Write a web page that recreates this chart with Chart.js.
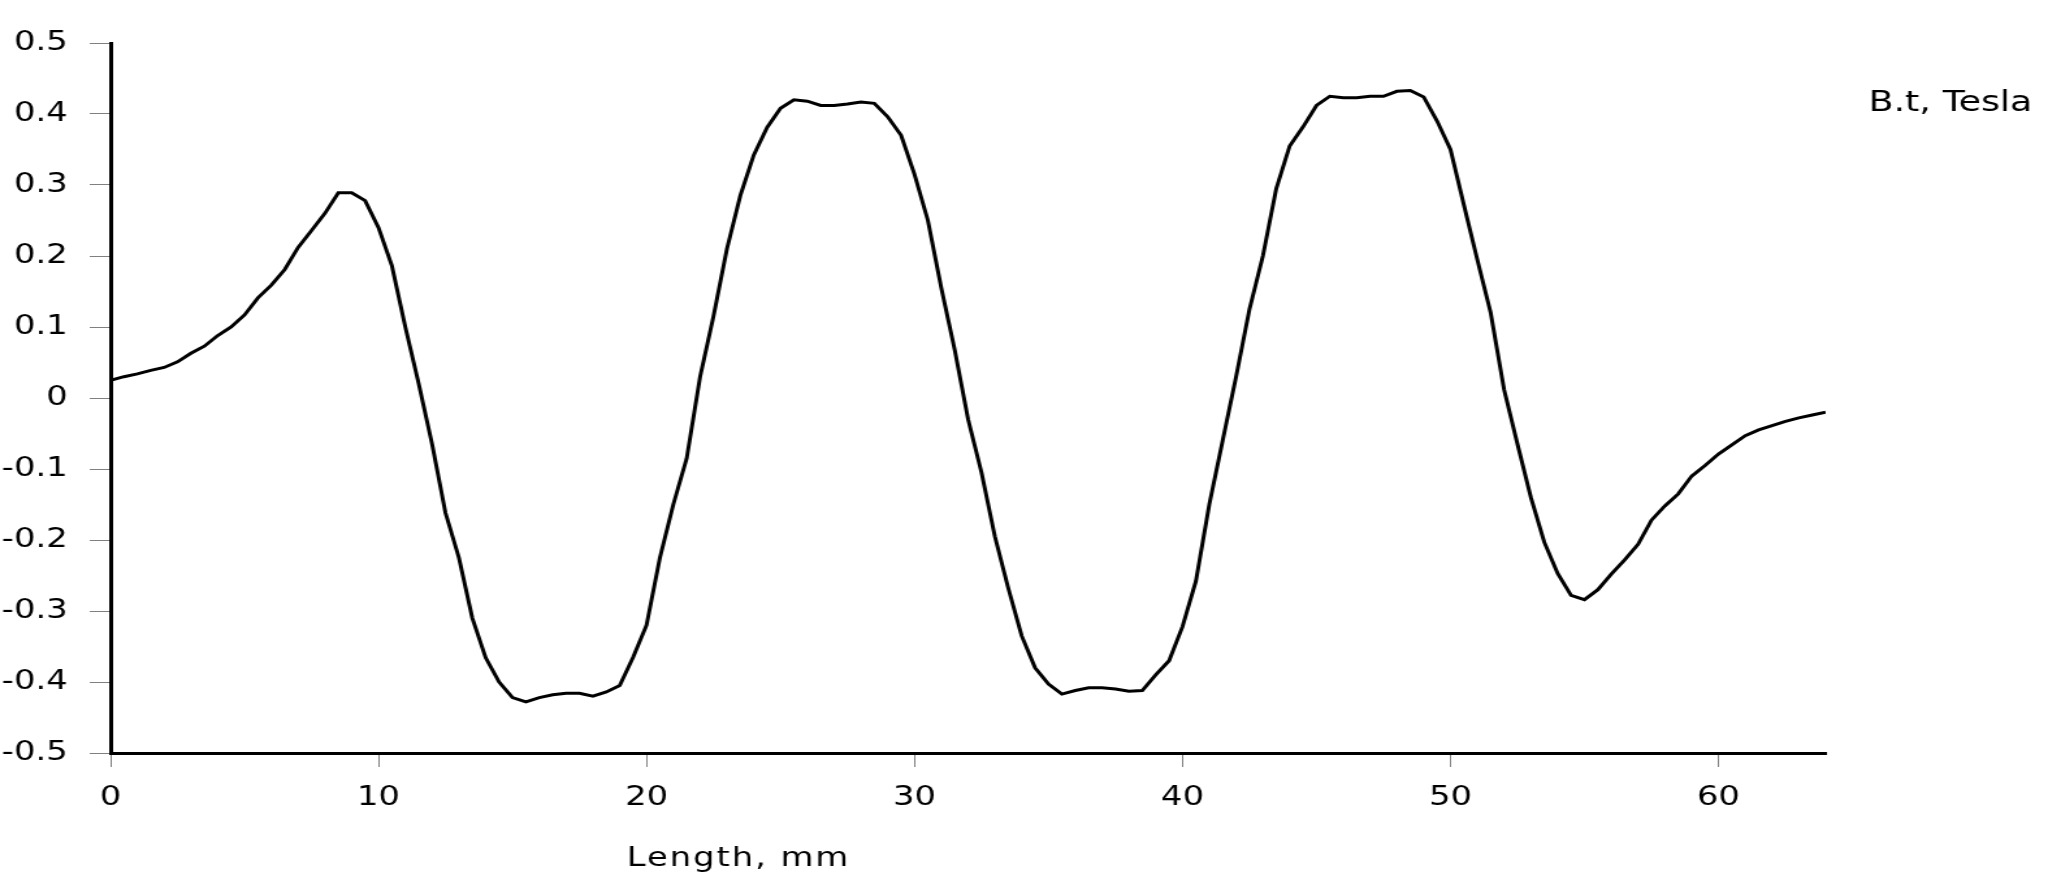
<!DOCTYPE html>
<html lang="en">
<head>
    <meta charset="UTF-8">
    <title>B.t along length</title>
    <style>
        html, body {
            margin: 0;
            padding: 0;
            background-color: #ffffff;
            overflow: hidden;
        }
    </style>
    <script src="https://cdn.jsdelivr.net/npm/chart.js"></script>
</head>
<body>
    <!-- the original picture is stretched sideways, so the canvas is drawn narrow and widened by inline css -->
    <canvas id="fieldChart" width="1575" height="894" style="display:block;width:2048px;height:894px"></canvas>

    <script>
        const seriesLabel = 'B.t, Tesla';
        const xTitle = 'Length, mm';

        const lengthMm = [
            0, 0.5, 1, 1.5, 2, 2.5, 3, 3.5, 4, 4.5, 5, 5.5, 6, 6.5, 7, 7.5,
            8, 8.5, 9, 9.5, 10, 10.5, 11, 11.5, 12, 12.5, 13, 13.5, 14, 14.5, 15, 15.5,
            16, 16.5, 17, 17.5, 18, 18.5, 19, 19.5, 20, 20.5, 21, 21.5, 22, 22.5, 23, 23.5,
            24, 24.5, 25, 25.5, 26, 26.5, 27, 27.5, 28, 28.5, 29, 29.5, 30, 30.5, 31, 31.5,
            32, 32.5, 33, 33.5, 34, 34.5, 35, 35.5, 36, 36.5, 37, 37.5, 38, 38.5, 39, 39.5,
            40, 40.5, 41, 41.5, 42, 42.5, 43, 43.5, 44, 44.5, 45, 45.5, 46, 46.5, 47, 47.5,
            48, 48.5, 49, 49.5, 50, 50.5, 51, 51.5, 52, 52.5, 53, 53.5, 54, 54.5, 55, 55.5,
            56, 56.5, 57, 57.5, 58, 58.5, 59, 59.5, 60, 60.5, 61, 61.5, 62, 62.5, 63, 63.5,
            64
        ];

        const btTesla = [
            0.025, 0.030, 0.034, 0.039, 0.043, 0.051, 0.063, 0.073, 0.088, 0.100, 0.117, 0.141, 0.159, 0.181, 0.212, 0.236,
            0.260, 0.289, 0.289, 0.278, 0.240, 0.186, 0.100, 0.020, -0.065, -0.162, -0.225, -0.310, -0.366, -0.400, -0.422, -0.428,
            -0.422, -0.418, -0.416, -0.416, -0.420, -0.414, -0.405, -0.365, -0.320, -0.225, -0.150, -0.085, 0.030, 0.115, 0.210, 0.285,
            0.342, 0.381, 0.408, 0.420, 0.418, 0.412, 0.412, 0.414, 0.417, 0.415, 0.396, 0.370, 0.315, 0.250, 0.155, 0.068,
            -0.030, -0.105, -0.195, -0.268, -0.335, -0.380, -0.403, -0.417, -0.412, -0.408, -0.408, -0.410, -0.413, -0.412, -0.390, -0.370,
            -0.322, -0.258, -0.150, -0.060, 0.030, 0.125, 0.200, 0.295, 0.355, 0.382, 0.412, 0.425, 0.423, 0.423, 0.425, 0.425,
            0.432, 0.433, 0.424, 0.390, 0.350, 0.272, 0.195, 0.120, 0.012, -0.065, -0.140, -0.203, -0.247, -0.278, -0.284, -0.270,
            -0.248, -0.228, -0.206, -0.172, -0.152, -0.135, -0.110, -0.095, -0.079, -0.066, -0.053, -0.045, -0.039, -0.033, -0.028, -0.024,
            -0.020
        ];

        const xTicks = [0, 10, 20, 30, 40, 50, 60];
        const yTicks = [-0.5, -0.4, -0.3, -0.2, -0.1, 0, 0.1, 0.2, 0.3, 0.4, 0.5];

        // series name on the right and the x title, both placed off-centre like the original
        const captions = {
            id: 'captions',
            afterDraw(chart) {
                const ctx = chart.ctx;
                ctx.save();
                ctx.fillStyle = '#000000';
                ctx.textAlign = 'left';
                ctx.textBaseline = 'alphabetic';
                ctx.font = '28px "DejaVu Sans"';
                ctx.fillText(chart.data.datasets[0].label, 1437, 111);
                ctx.font = '26px "DejaVu Sans"';
                ctx.letterSpacing = '1.5px';
                ctx.fillText(xTitle, 482, 866);
                ctx.restore();
            }
        };

        const points = lengthMm.map((x, i) => ({ x: x, y: btTesla[i] }));

        const ctx = document.getElementById('fieldChart').getContext('2d');
        new Chart(ctx, {
            type: 'line',
            data: {
                datasets: [{
                    label: seriesLabel,
                    data: points,
                    borderColor: '#000000',
                    backgroundColor: '#000000',
                    borderWidth: 3,
                    pointRadius: 0,
                    tension: 0,
                    fill: false
                }]
            },
            options: {
                responsive: false,
                devicePixelRatio: 1,
                animation: false,
                layout: {
                    padding: { left: 0, right: 171, top: 43, bottom: 81 }
                },
                plugins: {
                    legend: { display: false },
                    tooltip: { enabled: false }
                },
                scales: {
                    x: {
                        type: 'linear',
                        min: 0,
                        max: 64,
                        afterBuildTicks: scale => {
                            scale.ticks = xTicks.map(v => ({ value: v }));
                        },
                        afterFit: scale => {
                            scale.height = 60;
                        },
                        ticks: {
                            color: '#000000',
                            font: { family: 'DejaVu Sans', size: 26 },
                            padding: 16,
                            maxRotation: 0,
                            callback: v => String(v)
                        },
                        grid: {
                            drawOnChartArea: false,
                            drawTicks: true,
                            tickLength: 14,
                            tickColor: '#808080',
                            tickWidth: 1
                        },
                        border: { display: true, color: '#000000', width: 3 }
                    },
                    y: {
                        min: -0.5,
                        max: 0.5,
                        afterBuildTicks: scale => {
                            scale.ticks = yTicks.map(v => ({ value: v }));
                        },
                        afterFit: scale => {
                            scale.width = 85;
                        },
                        ticks: {
                            color: '#000000',
                            font: { family: 'DejaVu Sans', size: 26 },
                            padding: 17,
                            callback: v => (Math.abs(v) < 1e-9 ? '0' : v.toFixed(1))
                        },
                        grid: {
                            drawOnChartArea: false,
                            drawTicks: true,
                            tickLength: 16,
                            tickColor: '#808080',
                            tickWidth: 1
                        },
                        border: { display: true, color: '#000000', width: 3 }
                    }
                }
            },
            plugins: [captions]
        });
    </script>
</body>
</html>
